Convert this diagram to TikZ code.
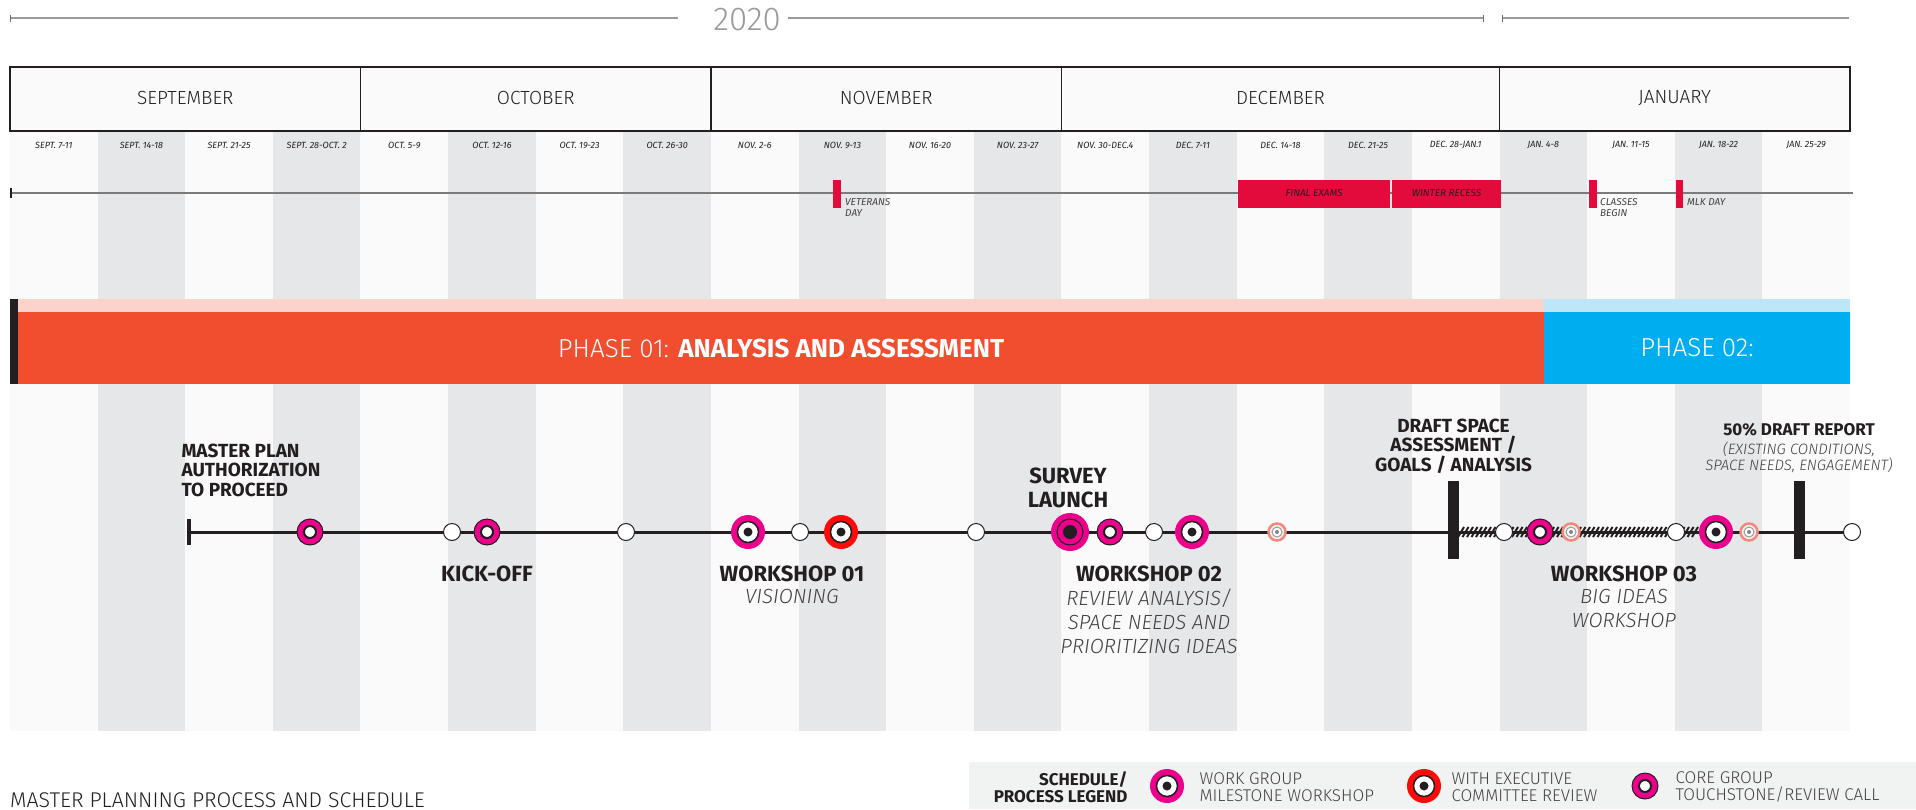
\documentclass[tikz,border=0pt]{standalone}
\usepackage{fontspec}
\setmainfont{Fira Sans}
\newfontfamily\lightfont{Fira Sans Light}
\usetikzlibrary{positioning}

\definecolor{Ink}{HTML}{231F20}
\definecolor{Paper}{HTML}{FAFAFA}
\definecolor{Stripe}{HTML}{E6E7E8}
\definecolor{LegendGray}{HTML}{F1F2F2}
\definecolor{RuleGray}{HTML}{9A9A9A}
\definecolor{Magenta}{HTML}{EC008C}
\definecolor{ExecRed}{HTML}{FF0A0A}
\definecolor{Holiday}{HTML}{E30B3C}
\definecolor{PhaseOne}{HTML}{F04E2F}
\definecolor{PhaseOneLight}{HTML}{FBD3CB}
\definecolor{PhaseTwo}{HTML}{00AEEF}
\definecolor{PhaseTwoLight}{HTML}{BDE6F8}
\definecolor{FadedRed}{HTML}{F2897B}

\tikzset{
	YearRule/.style={RuleGray,line width=2pt},
	MonthBox/.style={draw=Ink,line width=1.2pt,fill=Paper},
	MonthLabel/.style={font=\lightfont\fontsize{19}{22}\selectfont,text=Ink},
	WeekLabel/.style={font=\fontsize{9}{11}\selectfont\itshape,text=Ink},
	HolidayBar/.style={fill=Holiday,inner sep=0pt,minimum height=28pt,font=\fontsize{10}{12}\selectfont\itshape,text=Ink},
	HolidayLabel/.style={font=\fontsize{10}{11.5}\selectfont\itshape,text=Ink!85,align=left,inner sep=0pt,anchor=north west},
	PhaseBar/.style={inner sep=0pt,minimum height=72pt,text=white,font=\fontsize{26}{30}\selectfont},
	Timeline/.style={Ink,line width=3pt},
	Hatch/.style={Ink,line width=2pt},
	DraftBar/.style={fill=Ink,inner sep=0pt,minimum width=11pt,minimum height=78pt},
	MileTitle/.style={font=\fontsize{22}{24}\selectfont\bfseries,text=Ink,align=center},
	MileSmall/.style={font=\fontsize{19}{19.5}\selectfont\bfseries,text=Ink,align=center},
	MileNote/.style={font=\lightfont\fontsize{20.5}{24}\selectfont\itshape,text=Ink!85,align=center},
	OpenDot/.style={circle,fill=white,draw=Ink,line width=1pt,minimum size=17pt,inner sep=0pt},
	WorkGroup/.style={circle,fill=Magenta,minimum size=34pt,inner sep=0pt,
		path picture={\filldraw[fill=white,draw=Ink,line width=1.5pt] (path picture bounding box.center) circle (10.5pt);
			\fill[Ink] (path picture bounding box.center) circle (4.5pt);}},
	ExecReview/.style={WorkGroup,fill=ExecRed},
	CoreGroup/.style={circle,fill=Magenta,draw=Ink,line width=1pt,minimum size=26pt,inner sep=0pt,
		path picture={\filldraw[fill=white,draw=Ink,line width=2pt] (path picture bounding box.center) circle (6pt);}},
	Survey/.style={circle,fill=Magenta,minimum size=38pt,inner sep=0pt,
		path picture={\draw[Ink,line width=1pt] (path picture bounding box.center) circle (13pt);
			\fill[Ink] (path picture bounding box.center) circle (7pt);}},
	Faded/.style={circle,fill=Stripe!60,draw=FadedRed,line width=2.5pt,minimum size=17pt,inner sep=0pt,
		path picture={\filldraw[fill=white,draw=Ink!45,line width=1pt] (path picture bounding box.center) circle (5pt);
			\fill[Ink!55] (path picture bounding box.center) circle (2pt);}},
	LegendText/.style={font=\lightfont\fontsize{17}{17}\selectfont,text=Ink!85,align=left,anchor=west}
}

\begin{document}
\begin{tikzpicture}[x=1pt,y=-1pt]
	\useasboundingbox[fill=white] (0,0) rectangle (1916,809);
	\def\wk{87.619}

	\coordinate (YearStart) at (10,18);
	\coordinate (YearGapLeft) at (678,18);
	\coordinate (YearGapRight) at (788,18);
	\coordinate (YearBreakLeft) at (1483,18);
	\coordinate (YearBreakRight) at (1502,18);
	\coordinate (YearEnd) at (1849,18);
	\node[font=\lightfont\fontsize{33}{36}\selectfont,text=RuleGray] (Year) at (747,20) {2020};
	\draw[YearRule] (YearStart) -- (YearGapLeft);
	\draw[YearRule] (YearGapRight) -- (YearBreakLeft);
	\draw[YearRule] (YearBreakRight) -- (YearEnd);
	\foreach \p in {YearStart,YearBreakLeft,YearBreakRight}
		\draw[RuleGray!70!black,line width=1pt] ([yshift=3.5pt]\p) -- ([yshift=-3.5pt]\p);

	\fill[Paper] (10,67) rectangle (1850,731);
	\foreach \i in {1,3,...,19}
		\fill[Stripe] ({10+\i*\wk},131) rectangle ({10+(\i+1)*\wk},731);

	\foreach \a/\b/\m in {0/4/SEPTEMBER,4/8/OCTOBER,8/12/NOVEMBER,12/17/DECEMBER,17/21/JANUARY}{
		\draw[MonthBox] ({10+\a*\wk},67) rectangle ({10+\b*\wk},131);
		\node[MonthLabel] (Month\a) at ({10+(\a+\b)/2*\wk},98) {\m};
	}

	\foreach \w [count=\i from 0] in {SEPT. 7-11,SEPT. 14-18,SEPT. 21-25,SEPT. 28-OCT. 2,OCT. 5-9,OCT. 12-16,OCT. 19-23,OCT. 26-30,NOV. 2-6,NOV. 9-13,NOV. 16-20,NOV. 23-27,NOV. 30-DEC.4,DEC. 7-11,DEC. 14-18,DEC. 21-25,DEC. 28-JAN.1,JAN. 4-8,JAN. 11-15,JAN. 18-22,JAN. 25-29}
		\node[WeekLabel] (Week\i) at ({10+(\i+0.5)*\wk},145) {\w};

	\coordinate (CalStart) at (11,193);
	\coordinate (CalEnd) at (1853,193);
	\draw[RuleGray!80!black,line width=2pt] (CalStart) -- (CalEnd);
	\draw[Ink,line width=2.5pt] ([yshift=5pt]CalStart) -- ([yshift=-5pt]CalStart);

	\node[HolidayBar,minimum width=8pt] (Veterans) at (837,193.5) {};
	\node[HolidayLabel] (VeteransLabel) at (845,198) {VETERANS\\DAY};
	\node[HolidayBar,minimum width=152pt] (Exams) at (1314,193.5) {FINAL EXAMS};
	\node[HolidayBar,minimum width=109pt] (Recess) at (1446.5,193.5) {WINTER RECESS};
	\node[HolidayBar,minimum width=8pt] (Classes) at (1593,193.5) {};
	\node[HolidayLabel] (ClassesLabel) at (1600,198) {CLASSES\\BEGIN};
	\node[HolidayBar,minimum width=7.5pt] (Mlk) at (1679.5,193.5) {};
	\node[HolidayLabel] (MlkLabel) at (1687,198) {MLK DAY};

	\fill[Ink] (10,299) rectangle (18,384);
	\fill[PhaseOneLight] (18,299) rectangle (1544,312);
	\fill[PhaseTwoLight] (1544,299) rectangle (1850,312);
	\node[PhaseBar,fill=PhaseOne,minimum width=1526pt] (PhaseOneBar) at (781,348) {{\lightfont PHASE 01:} \textbf{ANALYSIS AND ASSESSMENT}};
	\node[PhaseBar,fill=PhaseTwo,minimum width=306pt] (PhaseTwoBar) at (1697,348) {\lightfont PHASE 02:};

	\coordinate (Authorize) at (189,532);
	\coordinate (LineEnd) at (1852,532);
	\draw[Timeline] (Authorize) -- (LineEnd);
	\draw[Ink,line width=3.5pt] ([yshift=13pt]Authorize) -- ([yshift=-13pt]Authorize);
	\foreach \x in {1461,1465.5,...,1698}
		\draw[Hatch] ({\x-3},537) -- ({\x+3},527);

	\node[CoreGroup] (CallA) at (310,532) {};
	\node[OpenDot] (DotA) at (452,532) {};
	\node[CoreGroup] (CallB) at (487,532) {};
	\node[OpenDot] (DotB) at (626,532) {};
	\node[WorkGroup] (WorkshopA) at (748,532) {};
	\node[OpenDot] (DotC) at (800,532) {};
	\node[ExecReview] (ReviewA) at (841,532) {};
	\node[OpenDot] (DotD) at (976,532) {};
	\node[Survey] (Launch) at (1070,532) {};
	\node[CoreGroup] (CallC) at (1110,532) {};
	\node[OpenDot] (DotE) at (1154,532) {};
	\node[WorkGroup] (WorkshopB) at (1192,532) {};
	\node[Faded] (ReviewB) at (1277,532) {};
	\node[DraftBar] (DraftA) at (1453.5,520) {};
	\node[OpenDot] (DotF) at (1504,532) {};
	\node[CoreGroup] (CallD) at (1540,532) {};
	\node[Faded] (ReviewC) at (1571,532) {};
	\node[OpenDot] (DotG) at (1676,532) {};
	\node[WorkGroup] (WorkshopC) at (1716,532) {};
	\node[Faded] (ReviewD) at (1749,532) {};
	\node[DraftBar] (DraftB) at (1799.5,520) {};
	\node[OpenDot] (DotH) at (LineEnd) {};

	\node[MileSmall,align=left,anchor=west] (AuthorizeLabel) at (178,470) {MASTER PLAN\\AUTHORIZATION\\TO PROCEED};
	\node[MileTitle] (KickOff) at (487,574) {KICK-OFF};
	\node[MileTitle] (WorkshopOne) at (792,574) {WORKSHOP 01};
	\node[MileNote,below=0pt of WorkshopOne] (WorkshopOneNote) {VISIONING};
	\node[MileTitle] (LaunchLabel) at (1068,488) {SURVEY\\LAUNCH};
	\node[MileTitle] (WorkshopTwo) at (1149,574) {WORKSHOP 02};
	\node[MileNote,below=0pt of WorkshopTwo] (WorkshopTwoNote) {REVIEW ANALYSIS/\\SPACE NEEDS AND\\PRIORITIZING IDEAS};
	\node[MileSmall,above=4pt of DraftA] (DraftALabel) {DRAFT SPACE\\ASSESSMENT /\\GOALS / ANALYSIS};
	\node[MileSmall,font=\fontsize{17}{19}\selectfont\bfseries] (DraftReport) at (1799,430) {50\% DRAFT REPORT};
	\node[MileNote,font=\lightfont\fontsize{15}{16.5}\selectfont\itshape,below=-2pt of DraftReport] (DraftReportNote) {(EXISTING CONDITIONS,\\SPACE NEEDS, ENGAGEMENT)};
	\node[MileTitle] (WorkshopThree) at (1624,574) {WORKSHOP 03};
	\node[MileNote,below=0pt of WorkshopThree] (WorkshopThreeNote) {BIG IDEAS\\WORKSHOP};

	\node[font=\lightfont\fontsize{21.3}{23}\selectfont,text=Ink,anchor=base west,inner sep=0pt] (Title) at (10,807) {MASTER PLANNING PROCESS AND SCHEDULE};

	\fill[LegendGray] (969,762) rectangle (1916,809);
	\node[font=\fontsize{17}{17}\selectfont\bfseries,text=Ink,align=right,anchor=east] (LegendHead) at (1131,787) {SCHEDULE/\\PROCESS LEGEND};
	\node[WorkGroup] (KeyWork) at (1167,786) {};
	\node[LegendText] (KeyWorkText) at (1196,787) {WORK GROUP\\MILESTONE WORKSHOP};
	\node[ExecReview] (KeyExec) at (1424,786) {};
	\node[LegendText] (KeyExecText) at (1448,787) {WITH EXECUTIVE\\COMMITTEE REVIEW};
	\node[CoreGroup] (KeyCore) at (1645,786) {};
	\node[LegendText] (KeyCoreText) at (1672,787) {CORE GROUP\\TOUCHSTONE/REVIEW CALL};
\end{tikzpicture}
\end{document}
